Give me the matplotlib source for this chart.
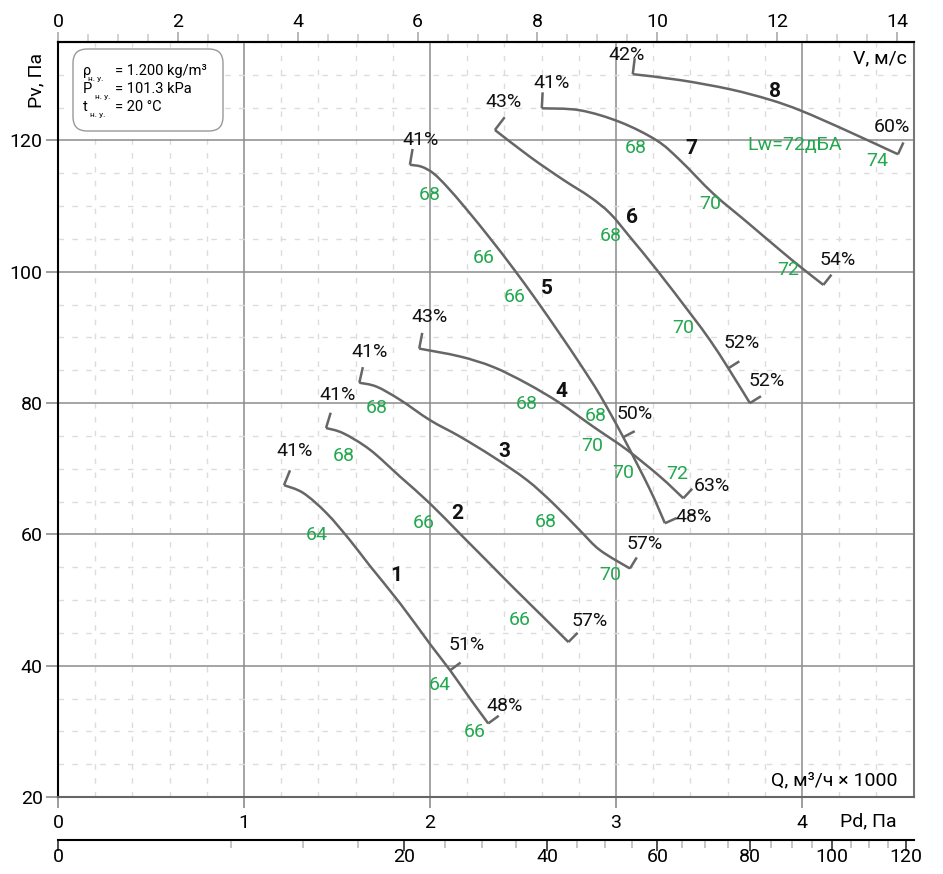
import numpy as np
import matplotlib
matplotlib.use('Agg')
import matplotlib.pyplot as plt
from matplotlib.patches import FancyBboxPatch, PathPatch
from matplotlib.path import Path
from matplotlib.ticker import MultipleLocator

plt.rcParams['font.family'] = ['Roboto', 'DejaVu Sans']

# ---------------- data ----------------
c1_q = [1.215, 1.319, 1.445, 1.570, 1.677, 1.839, 2.000, 2.108, 2.215, 2.313]
c1_pv = [67.5, 66.3, 63.2, 59.1, 55.2, 49.5, 43.3, 39.3, 35.0, 31.2]
c2_q = [1.441, 1.534, 1.677, 1.839, 2.000, 2.161, 2.305, 2.448, 2.627, 2.744]
c2_pv = [76.2, 75.4, 72.9, 68.8, 64.7, 60.1, 56.0, 51.9, 46.9, 43.6]
c3_q = [1.620, 1.713, 1.839, 2.000, 2.161, 2.340, 2.520, 2.663, 2.806, 2.914, 3.075]
c3_pv = [83.1, 82.5, 80.5, 77.4, 74.9, 71.8, 68.3, 64.7, 60.6, 57.6, 54.8]
c4_q = [1.942, 2.161, 2.340, 2.520, 2.699, 2.878, 3.058, 3.237, 3.362]
c4_pv = [88.3, 87.1, 85.5, 83.0, 80.0, 76.4, 72.9, 68.8, 65.5]
c5_q = [1.892, 1.955, 2.018, 2.090, 2.197, 2.323, 2.448, 2.574, 2.699, 2.806, 2.914, 3.039, 3.183, 3.263]
c5_pv = [116.3, 116.0, 115.0, 113.0, 109.5, 105.1, 100.5, 95.6, 90.5, 86.0, 81.2, 74.8, 66.8, 61.7]
c6_q = [2.349, 2.538, 2.717, 2.860, 2.968, 3.075, 3.219, 3.398, 3.505, 3.604, 3.720]
c6_pv = [121.6, 117.5, 114.0, 111.4, 108.9, 105.3, 100.3, 93.7, 89.6, 85.3, 80.0]
c7_q = [2.601, 2.806, 3.022, 3.219, 3.344, 3.523, 3.703, 3.882, 3.998, 4.115]
c7_pv = [124.9, 124.6, 122.8, 120.0, 117.0, 111.9, 107.6, 103.3, 100.6, 98.0]
c8_q = [3.090, 3.344, 3.613, 3.828, 3.998, 4.240, 4.516]
c8_pv = [130.1, 129.2, 127.8, 126.2, 124.5, 121.5, 117.9]

# mid-curve efficiency ticks: (curve index, point index)
mid_curve = [0, 4, 5]
mid_point = [7, 11, 9]

num_text = ['1', '2', '3', '4', '5', '6', '7', '8']
num_q = [1.821, 2.147, 2.399, 2.704, 2.631, 3.088, 3.407, 3.855]
num_pv = [53.8, 63.2, 72.6, 81.7, 97.5, 108.3, 118.8, 127.4]

eff_text = ['41%', '51%', '48%', '41%', '57%', '41%', '57%', '43%', '63%',
            '41%', '50%', '48%', '43%', '52%', '52%', '41%', '54%', '42%', '60%']
eff_q = [1.274, 2.197, 2.403, 1.502, 2.860, 1.674, 3.156, 2.000, 3.514,
         1.950, 3.102, 3.416, 2.394, 3.676, 3.810, 2.654, 4.190, 3.058, 4.482]
eff_pv = [72.7, 43.2, 33.9, 81.3, 46.8, 87.8, 58.5, 93.1, 67.4,
          120.0, 78.4, 62.7, 125.9, 89.1, 83.4, 128.7, 101.8, 133.0, 122.0]

noise_text = ['64', '64', '66', '68', '66', '66', '68', '68', '70', '68', '68', '72',
              '68', '66', '66', '70', '70', '68', '70', '68', '70', '72', '74', 'Lw=72дБА']
noise_q = [1.391, 2.050, 2.242, 1.534, 1.964, 2.480, 1.713, 2.624, 2.971, 2.520, 2.891, 3.330,
           1.996, 2.287, 2.457, 2.873, 3.039, 2.973, 3.359, 3.108, 3.505, 3.926, 4.402, 3.962]
noise_pv = [59.9, 37.1, 29.9, 71.9, 61.8, 47.0, 79.2, 61.9, 53.8, 79.9, 78.0, 69.2,
            111.7, 102.1, 96.2, 73.4, 69.4, 105.5, 91.5, 118.8, 110.4, 100.2, 116.9, 119.3]

v_ticks = [0, 2, 4, 6, 8, 10, 12, 14]
q_ticks = [0, 1, 2, 3, 4]
pd_ticks = [0, 20, 40, 60, 80, 100, 120]
pv_ticks = [20, 40, 60, 80, 100, 120]

K = 3.1036     # V [m/s] per Q [1000 m3/h]
RHO = 1.2

curves_q = [c1_q, c2_q, c3_q, c4_q, c5_q, c6_q, c7_q, c8_q]
curves_pv = [c1_pv, c2_pv, c3_pv, c4_pv, c5_pv, c6_pv, c7_pv, c8_pv]

# ---------------- figure ----------------
W, H = 943, 874
fig = plt.figure(figsize=(W / 100, H / 100), dpi=100)
L, R, T, B = 58, 914, 42, 797
ax = fig.add_axes([L / W, (H - B) / H, (R - L) / W, (B - T) / H])
ax.set_xlim(0, (R - L) / 186.0)
ax.set_ylim(20, 135)

GREEN = '#22a84e'
LINE = '#666666'
GRID = '#8c8c8c'

ax.xaxis.set_major_locator(plt.FixedLocator(q_ticks))
ax.xaxis.set_minor_locator(MultipleLocator(0.2))
ax.yaxis.set_major_locator(plt.FixedLocator(pv_ticks))
ax.yaxis.set_minor_locator(MultipleLocator(5))
ax.set_axisbelow(True)
ax.grid(which='major', color=GRID, lw=1.1)
ax.grid(which='minor', color='#dcdcdc', lw=1.0, linestyle=(0, (4, 6)))
ax.tick_params(which='minor', length=0)
ax.tick_params(axis='x', which='major', length=8, width=1.2, color=GRID, pad=4, labelsize=14)
ax.tick_params(axis='y', which='major', length=9, width=1.2, color=GRID, pad=2, labelsize=14)
for s in ['left', 'top']:
    ax.spines[s].set_color('black')
    ax.spines[s].set_linewidth(1.5)
ax.spines['right'].set_color('#777777')
ax.spines['right'].set_linewidth(1.5)
ax.spines['bottom'].set_color('#666666')
ax.spines['bottom'].set_linewidth(1.5)

# top V axis
secv = ax.secondary_xaxis('top', functions=(lambda q: q * K, lambda v: v / K))
secv.xaxis.set_major_locator(plt.FixedLocator(v_ticks))
secv.xaxis.set_minor_locator(MultipleLocator(0.5))
secv.tick_params(which='major', length=7, width=1.2, color='#aaaaaa', pad=1, labelsize=14)
secv.tick_params(which='minor', length=6, width=1.2, color='#cccccc')
secv.spines['top'].set_color('black')
secv.spines['top'].set_linewidth(1.5)

# Pd axis below
def pd_fwd(q):
    return RHO / 2 * (np.asarray(q) * K) ** 2

def pd_inv(pd):
    return np.sqrt(np.clip(np.asarray(pd, dtype=float), 0, None) / (RHO / 2)) / K

secp = ax.secondary_xaxis((B - 840) / (B - T), functions=(pd_fwd, pd_inv))
secp.xaxis.set_major_locator(plt.FixedLocator(pd_ticks))
secp.xaxis.set_minor_locator(MultipleLocator(5))
secp.tick_params(which='major', length=8, width=1.2, color='#333333', pad=-2, labelsize=14)
secp.tick_params(which='minor', length=6, width=1.2, color='#bbbbbb')
secp.spines['bottom'].set_color('black')
secp.spines['bottom'].set_linewidth(1.5)

# ---------------- curves (smooth path through the read points) ----------------
def smooth_path(q, pv):
    p = np.column_stack([q, pv]).astype(float)
    ext = np.vstack([p[0], p, p[-1]])
    verts = [p[0]]
    codes = [Path.MOVETO]
    for i in range(len(p) - 1):
        p0, p1, p2, p3 = ext[i], ext[i + 1], ext[i + 2], ext[i + 3]
        c1 = p1 + (p2 - p0) / 6.0
        c2 = p2 - (p3 - p1) / 6.0
        verts += [c1, c2, p2]
        codes += [Path.CURVE4] * 3
    return Path(verts, codes)

for q, pv in zip(curves_q, curves_pv):
    ax.add_patch(PathPatch(smooth_path(q, pv), facecolor='none', edgecolor=LINE,
                           lw=1.8, capstyle='butt', zorder=3))

fig.canvas.draw()
to_disp = ax.transData
to_data = ax.transData.inverted()

def draw_tick(q, pv, i, length):
    pts = to_disp.transform(np.column_stack([q, pv]))
    j0 = max(i - 1, 0)
    j1 = min(i + 1, len(q) - 1)
    d = pts[j1] - pts[j0]
    d = d / np.hypot(*d)
    n = np.array([-d[1], d[0]])
    if n[1] < 0:
        n = -n
    p0 = pts[i]
    p1 = p0 + n * length
    seg = to_data.transform(np.vstack([p0, p1]))
    ax.plot(seg[:, 0], seg[:, 1], color=LINE, lw=1.8, solid_capstyle='butt', zorder=3)

for q, pv in zip(curves_q, curves_pv):
    draw_tick(q, pv, 0, 16)
    draw_tick(q, pv, len(q) - 1, 13)
for ci, pi in zip(mid_curve, mid_point):
    draw_tick(curves_q[ci], curves_pv[ci], pi, 13)

for t, x, y in zip(num_text, num_q, num_pv):
    ax.text(x, y, t, fontsize=15, fontweight='bold', ha='center', va='center', color='#111111', zorder=4)
for t, x, y in zip(eff_text, eff_q, eff_pv):
    ax.text(x, y, t, fontsize=14, ha='center', va='center', color='#111111', zorder=4)
for t, x, y in zip(noise_text, noise_q, noise_pv):
    ax.text(x, y, t, fontsize=14, ha='center', va='center', color=GREEN, zorder=4)

# ---------------- annotations ----------------
ft = fig.dpi_scale_trans

def fp(x, y):
    return (x / 100, (H - y) / 100)

fig.text(*fp(36, 80), 'Pv, Па', transform=ft, rotation=90, fontsize=14, ha='center', va='center')
fig.text(*fp(907, 58), 'V, м/с', transform=ft, fontsize=14, ha='right', va='center')
fig.text(*fp(897, 780), 'Q, м³/ч × 1000', transform=ft, fontsize=14, ha='right', va='center')
fig.text(*fp(897, 821), 'Pd, Па', transform=ft, fontsize=14, ha='right', va='center')

box = FancyBboxPatch((0.73, (H - 131) / 100), 1.50, 0.82,
                     boxstyle='round,pad=0,rounding_size=0.14',
                     transform=ft, facecolor='white', edgecolor='#999999', lw=1.0, zorder=5)
fig.add_artist(box)
info_main = ['ρ', 'P', 't']
info_sub_x = [88, 95, 90]
info_rest = ['= 1.200 kg/m³', '= 101.3 kPa', '= 20 °C']
info_y = [71, 89, 107]
for m, sx, r, y in zip(info_main, info_sub_x, info_rest, info_y):
    fig.text(*fp(83, y), m, transform=ft, fontsize=10.5, ha='left', va='center', zorder=6)
    fig.text(*fp(sx, y + 8), 'н. у.', transform=ft, fontsize=6, ha='left', va='center', zorder=6)
    fig.text(*fp(115, y), r, transform=ft, fontsize=10.5, ha='left', va='center', zorder=6)

fig.savefig('out.png', dpi=100)
